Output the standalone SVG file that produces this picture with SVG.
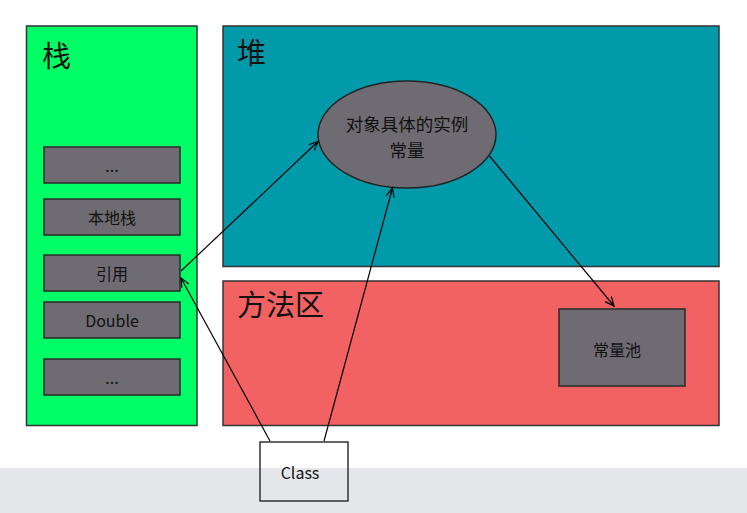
<svg xmlns="http://www.w3.org/2000/svg" width="747" height="513" viewBox="0 0 747 513">
<style>
text{font-family:"Noto Sans CJK SC","Noto Sans",sans-serif;fill:#111}
.area{stroke:#333;stroke-width:1.5}
.item{fill:#6e6c72;stroke:#2a2a2a;stroke-width:1.5}
.lbl{font-size:16px;text-anchor:middle;dominant-baseline:central}
.big{font-size:17.5px}
.title{font-size:29px}
.conn{stroke:#000;stroke-width:1.2;fill:none;marker-end:url(#arr)}
</style>
<defs>
<marker id="arr" markerWidth="12" markerHeight="12" refX="10" refY="5" orient="auto" markerUnits="userSpaceOnUse">
<path d="M1,1 L10,5 L1,9" fill="none" stroke="#000" stroke-width="1.2"/>
</marker>
</defs>
<rect x="0" y="0" width="747" height="513" fill="#ffffff"/>
<rect x="0" y="468" width="747" height="45" fill="#e6e7ea"/>
<g id="stack">
<rect class="area" x="26.5" y="26" width="170.5" height="399.5" fill="#00ff66"/>
<text class="title" x="42" y="67">栈</text>
</g>
<g id="heap">
<rect class="area" x="223" y="26" width="496" height="240.5" fill="#009aab"/>
<text class="title" x="237" y="64">堆</text>
</g>
<g id="method-area">
<rect class="area" x="223" y="281" width="496" height="144.5" fill="#f26262"/>
<text class="title" x="237" y="316">方法区</text>
</g>
<g id="item-dots1">
<rect class="item" x="44" y="147" width="136" height="36"/>
<text class="lbl" x="112" y="165">...</text>
</g>
<g id="item-native">
<rect class="item" x="44" y="199" width="136" height="36"/>
<text class="lbl" x="112" y="217">本地栈</text>
</g>
<g id="item-ref">
<rect class="item" x="44" y="255" width="136" height="36"/>
<text class="lbl" x="112" y="273">引用</text>
</g>
<g id="item-double">
<rect class="item" x="44" y="302" width="136" height="36"/>
<text class="lbl" x="112" y="320">Double</text>
</g>
<g id="item-dots2">
<rect class="item" x="44" y="359" width="136" height="36"/>
<text class="lbl" x="112" y="377">...</text>
</g>
<g id="instance">
<ellipse cx="407" cy="134.5" rx="89" ry="53.5" fill="#6e6c72" stroke="#222" stroke-width="1.5"/>
<text class="lbl big" x="407" y="123">对象具体的实例</text>
<text class="lbl big" x="407" y="149">常量</text>
</g>
<g id="constant-pool">
<rect class="item" x="559" y="309" width="126" height="77"/>
<text class="lbl" x="617" y="349">常量池</text>
</g>
<g id="class">
<rect x="260" y="442" width="88" height="59" fill="none" stroke="#333" stroke-width="1.5"/>
<text class="lbl" x="300" y="472">Class</text>
</g>
<g id="connectors">
<line class="conn" x1="181" y1="271" x2="318" y2="141.5"/>
<line class="conn" x1="270" y1="441" x2="181" y2="278"/>
<line class="conn" x1="324" y1="441" x2="392.5" y2="188"/>
<line class="conn" x1="489.5" y1="156" x2="614" y2="306"/>
</g>
</svg>
